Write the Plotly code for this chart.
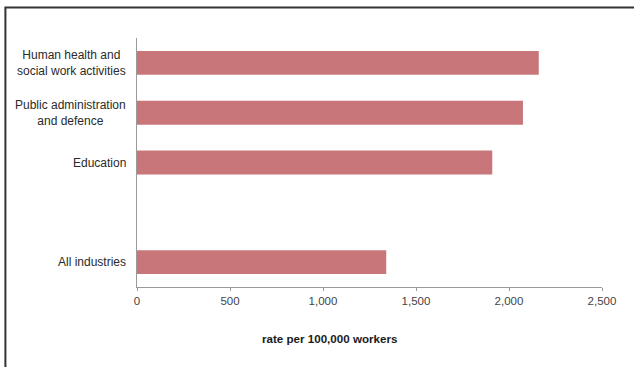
import plotly.graph_objects as go

categories = ["All industries", " ", "Education",
              "Public administration<br>and defence",
              "Human health and<br>social work activities"]
values = [1340, None, 1910, 2075, 2160]
x_ticks = [0, 500, 1000, 1500, 2000, 2500]
x_tick_labels = ["0", "500", "1,000", "1,500", "2,000", "2,500"]
x_title = "rate per 100,000 workers"

FONT = "Liberation Sans, Arial, sans-serif"
BAR_COLOR = "rgb(200,118,122)"

fig = go.Figure()
fig.add_trace(go.Bar(
    x=values, y=categories, orientation="h",
    marker=dict(color=BAR_COLOR, line=dict(width=0)),
    width=0.48, showlegend=False, hoverinfo="x+y",
))

# category labels (centered multi-line, right-anchored at axis)
for cat, v in zip(categories, values):
    if v is None:
        continue
    fig.add_annotation(
        x=0, y=cat, xref="x", yref="y", text=cat,
        xanchor="right", yanchor="middle", align="center",
        xshift=-9, showarrow=False,
        font=dict(family=FONT, size=12, color="#2a2a2a"),
    )

fig.add_annotation(
    x=0.415, y=-0.205, xref="paper", yref="paper", text="<b>" + x_title + "</b>",
    xanchor="center", yanchor="middle", showarrow=False,
    font=dict(family=FONT, size=11.6, color="#1a1a1a"),
)

# outer frame (top and left edges visible)
fig.add_shape(type="path", xref="paper", yref="paper",
              path="M -0.283,-0.4 L -0.283,1.1225 L 1.2,1.1225",
              line=dict(color="#333333", width=2))

fig.update_layout(
    width=634, height=367,
    margin=dict(l=137, r=32, t=38, b=80),
    paper_bgcolor="white", plot_bgcolor="white",
    font=dict(family=FONT, size=12, color="#333333"),
    bargap=0.52,
    xaxis=dict(
        range=[0, 2500], tickvals=x_ticks, ticktext=x_tick_labels,
        showgrid=False, zeroline=False,
        showline=True, linecolor="#9a9a9a", linewidth=1,
        ticks="outside", ticklen=3, tickcolor="#9a9a9a",
        tickfont=dict(family=FONT, size=11.5, color="#444444"),
        fixedrange=True,
    ),
    yaxis=dict(
        type="category", categoryorder="array", categoryarray=categories,
        showticklabels=False, showgrid=False, zeroline=False,
        showline=True, linecolor="#9a9a9a", linewidth=1,
        ticks="", fixedrange=True,
    ),
)

fig.write_html("out.html")
